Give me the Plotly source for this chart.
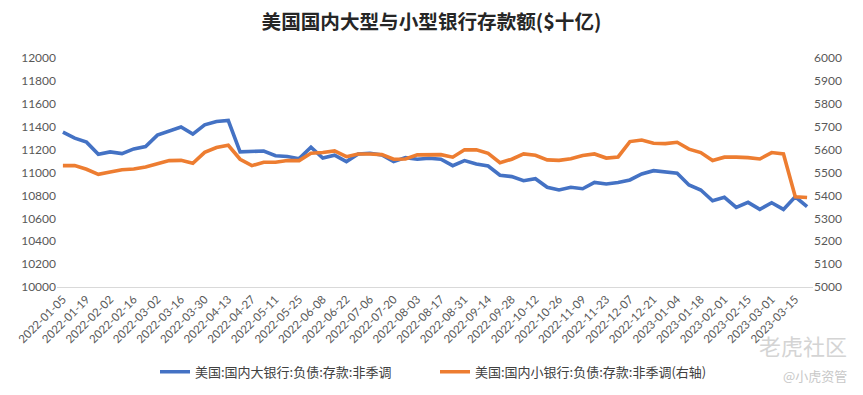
import plotly.graph_objects as go
from datetime import date, timedelta

# Weekly dates
start = date(2022, 1, 5)
dates = [(start + timedelta(weeks=i)).isoformat() for i in range(64)]

large_banks = [11352, 11300, 11265, 11160, 11180, 11165, 11206, 11226, 11326, 11360,
               11398, 11335, 11416, 11445, 11454, 11180, 11182, 11188, 11147, 11139,
               11121, 11221, 11127, 11151, 11095, 11162, 11168, 11153, 11095, 11130,
               11116, 11124, 11116, 11060, 11104, 11075, 11057, 10976, 10964, 10928,
               10946, 10871, 10847, 10871, 10858, 10914, 10900, 10912, 10935, 10987,
               11016, 11007, 10993, 10891, 10847, 10753, 10783, 10696, 10739, 10678,
               10736, 10678, 10788, 10701]

small_banks = [5530, 5530, 5514, 5492, 5502, 5512, 5515, 5524, 5538, 5552,
               5553, 5540, 5588, 5609, 5619, 5558, 5530, 5545, 5545, 5552,
               5552, 5584, 5587, 5594, 5569, 5581, 5581, 5578, 5558, 5559,
               5577, 5579, 5578, 5567, 5599, 5599, 5584, 5543, 5558, 5581,
               5575, 5555, 5553, 5560, 5574, 5581, 5563, 5568, 5635, 5642,
               5628, 5626, 5632, 5602, 5587, 5552, 5567, 5567, 5565, 5559,
               5587, 5581, 5394, 5391]

name_large = "美国:国内大银行:负债:存款:非季调"
name_small = "美国:国内小银行:负债:存款:非季调(右轴)"
title_text = "美国国内大型与小型银行存款额($十亿)"

left_ticks = list(range(10000, 12001, 200))
right_ticks = list(range(5000, 6001, 100))

FONT = "Lato, Noto Sans CJK SC, sans-serif"
CJK = "Noto Sans CJK SC, sans-serif"

fig = go.Figure()
fig.add_trace(go.Scatter(x=dates, y=large_banks, name=name_large, mode="lines",
                         line=dict(color="#4472C4", width=3.6)))
fig.add_trace(go.Scatter(x=dates, y=small_banks, name=name_small, mode="lines",
                         line=dict(color="#ED7D31", width=3.6), yaxis="y2"))

fig.update_layout(
    width=863, height=395,
    margin=dict(l=57, r=50, t=58, b=108, autoexpand=False),
    paper_bgcolor="white", plot_bgcolor="white",
    title=dict(text="<b>" + title_text + "</b>", x=0.5, xanchor="center",
               y=0.945, yanchor="middle",
               font=dict(family=CJK, size=19.6, color="#262626")),
    showlegend=True,
    legend=dict(orientation="h", x=0.5, xanchor="center", y=-0.37, yanchor="middle",
                font=dict(family=CJK, size=13, color="#404040"),
                itemwidth=30, tracegroupgap=0, entrywidth=235),
    xaxis=dict(type="category", range=[-0.5, 63.5], automargin=False,
               tickvals=dates[0::2], ticktext=dates[0::2],
               tickangle=-45, tickfont=dict(family=FONT, size=11.5, color="#595959"),
               showgrid=False, showline=True, linecolor="#D9D9D9", linewidth=1.3,
               ticks="", zeroline=False),
    yaxis=dict(range=[10000, 12000], tickvals=left_ticks,
               ticktext=[str(v) for v in left_ticks], automargin=False,
               showgrid=False, showline=False, zeroline=False, ticks="",
               tickfont=dict(family=FONT, size=12, color="#595959")),
    yaxis2=dict(range=[5000, 6000], tickvals=right_ticks,
                ticktext=[str(v) for v in right_ticks], automargin=False,
                overlaying="y", side="right",
                showgrid=False, showline=False, zeroline=False, ticks="",
                tickfont=dict(family=FONT, size=12, color="#595959")),
)

# watermark
fig.add_annotation(text="老虎社区", xref="paper", yref="paper", x=1.047, y=-0.255,
                   xanchor="right", yanchor="middle", showarrow=False,
                   font=dict(family=CJK, size=22, color="#D4D4D4"))
fig.add_annotation(text="@小虎资管", xref="paper", yref="paper", x=1.047, y=-0.385,
                   xanchor="right", yanchor="middle", showarrow=False,
                   font=dict(family=CJK, size=13, color="#C8C8C8"))

fig.write_html("out.html", config={"displayModeBar": False},
               post_script="document.body.style.margin='0';document.body.style.padding='0';document.body.style.overflow='hidden';")
